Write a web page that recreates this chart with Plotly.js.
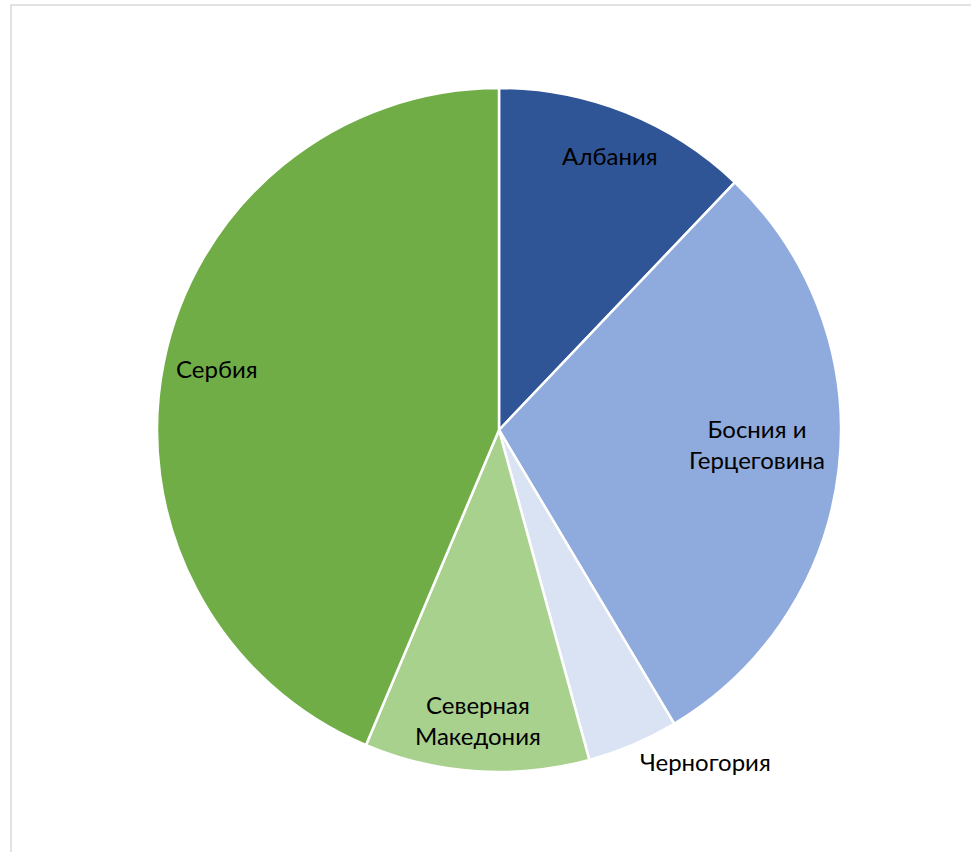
<!DOCTYPE html>
<html><head><meta charset="utf-8">
<script src="https://cdn.plot.ly/plotly-3.0.1.min.js"></script>
<style>html,body{margin:0;padding:0;background:#fff;}#chart{width:971px;height:852px;}</style>
</head><body><div id="chart"></div>
<script>
const categories = ["Албания", "Босния и<br>Герцеговина", "Черногория", "Северная<br>Македония", "Сербия"];
const values = [12.1, 29.3, 4.3, 10.6, 43.6];
const colors = ["#2F5597", "#8FAADC", "#DAE3F3", "#A9D18E", "#70AD47"];

// label anchor positions in pixels (layout only)
const labelPos = [[610, 156], [757, 444], [705, 761], [478, 720], [217, 368]];

const cx = 499, cy = 430, r = 342, W = 971, H = 852;
const font = {family: "Lato, 'Open Sans', sans-serif", size: 24, color: "#000000"};
const trace = {
  type: "pie",
  labels: categories,
  values: values,
  marker: {colors: colors, line: {color: "#ffffff", width: 2.5}},
  sort: false,
  direction: "clockwise",
  rotation: 0,
  textinfo: "none",
  hoverinfo: "label+percent",
  showlegend: false,
  domain: {x: [(cx - r) / W, (cx + r) / W], y: [1 - (cy + r) / H, 1 - (cy - r) / H]}
};
const annotations = categories.map((c, i) => ({
  text: c, xref: "paper", yref: "paper",
  x: labelPos[i][0] / W, y: 1 - labelPos[i][1] / H,
  xanchor: "center", yanchor: "middle", showarrow: false, align: "center", font: font
}));
const layout = {
  width: W, height: H,
  margin: {l: 0, r: 0, t: 0, b: 0},
  paper_bgcolor: "#ffffff",
  showlegend: false,
  annotations: annotations,
  shapes: [{type: "rect", xref: "paper", yref: "paper", x0: 11 / W, x1: 1.05, y0: -0.05, y1: 1 - 5 / H,
    line: {color: "#D9D9D9", width: 1.5}, fillcolor: "rgba(0,0,0,0)"}]
};
Plotly.newPlot("chart", [trace], layout, {displayModeBar: false, staticPlot: true});
</script></body></html>
